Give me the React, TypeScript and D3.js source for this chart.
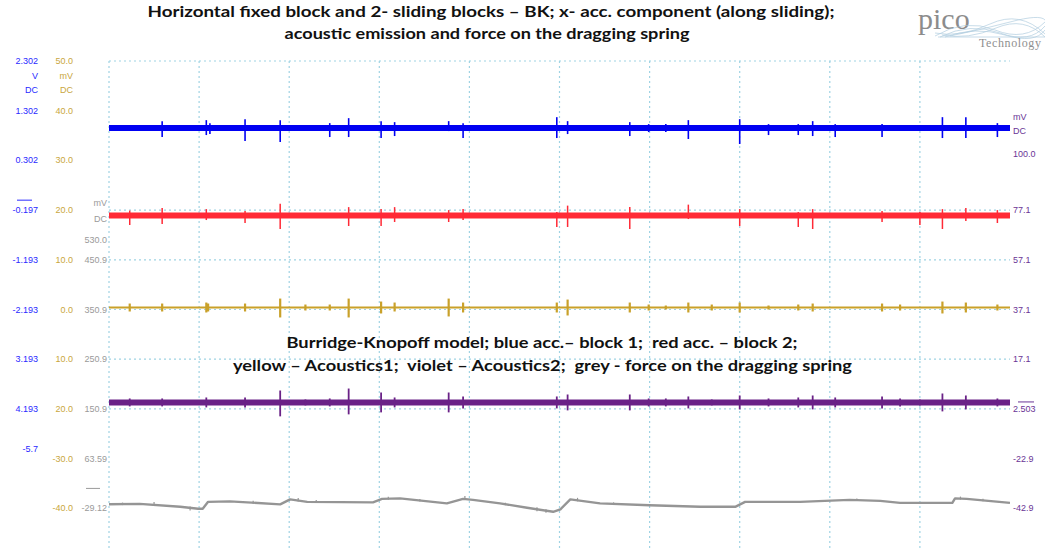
import React, { useEffect } from "react";
import * as d3 from "d3";

// ---------- data (time in screen divisions 0..10, amplitude in screen divisions) ----------
const TIME_DIVS = [0, 1, 2, 3, 4, 5, 6, 7, 8, 9];
const GRID_ROWS = [5, 2, 1, 0, -1, -2];

const BLUE_LEVEL = 3.65;
const RED_LEVEL = 1.89;
const YELLOW_LEVEL = 0.04;
const PURPLE_LEVEL = -1.87;

// [time, up, down] spikes
const blueSpikes: [number, number, number][] = [
  [0.59, 0.14, 0.18], [1.08, 0.16, 0.14], [1.12, 0.1, 0.12], [1.51, 0.18, 0.26], [1.9, 0.16, 0.28],
  [2.45, 0.1, 0.18], [2.66, 0.2, 0.18], [3.02, 0.14, 0.2], [3.17, 0.12, 0.16], [3.77, 0.14, 0.06],
  [3.93, 0.1, 0.2], [4.97, 0.22, 0.2], [5.09, 0.14, 0.12], [5.78, 0.12, 0.16], [5.99, 0.08, 0.08],
  [6.18, 0.08, 0.08], [6.43, 0.16, 0.22], [7.0, 0.18, 0.32], [7.32, 0.08, 0.14], [7.65, 0.08, 0.14],
  [7.81, 0.14, 0.16], [8.06, 0.08, 0.18], [8.58, 0.08, 0.18], [9.25, 0.22, 0.2], [9.51, 0.22, 0.2],
  [9.86, 0.1, 0.18],
];
const redSpikes: [number, number, number][] = [
  [0.23, 0.1, 0.19], [0.59, 0.15, 0.17], [1.08, 0.13, 0.09], [1.51, 0.09, 0.15], [1.9, 0.24, 0.27],
  [2.66, 0.17, 0.21], [3.02, 0.13, 0.21], [3.17, 0.17, 0.13], [3.77, 0.11, 0.13], [3.93, 0.13, 0.09],
  [4.97, 0.07, 0.23], [5.09, 0.2, 0.23], [5.78, 0.17, 0.27], [6.43, 0.22, 0.07], [7.0, 0.13, 0.21],
  [7.65, 0.07, 0.23], [7.81, 0.13, 0.27], [8.58, 0.09, 0.13], [9.0, 0.07, 0.19], [9.25, 0.13, 0.27],
  [9.51, 0.15, 0.11], [9.86, 0.11, 0.15],
];
const yellowSpikes: [number, number, number][] = [
  [0.23, 0.08, 0.08], [0.59, 0.08, 0.08], [1.08, 0.1, 0.1], [1.1, 0.08, 0.08], [1.51, 0.08, 0.08],
  [1.9, 0.18, 0.2], [2.18, 0.06, 0.06], [2.45, 0.06, 0.06], [2.66, 0.18, 0.2], [3.02, 0.12, 0.12],
  [3.17, 0.1, 0.08], [3.77, 0.18, 0.18], [3.93, 0.1, 0.1], [4.97, 0.1, 0.1], [5.09, 0.16, 0.16],
  [5.78, 0.1, 0.1], [5.99, 0.06, 0.06], [6.18, 0.04, 0.04], [6.43, 0.1, 0.1], [6.69, 0.06, 0.06],
  [7.0, 0.1, 0.1], [7.32, 0.04, 0.04], [7.65, 0.06, 0.06], [7.81, 0.08, 0.08], [8.58, 0.08, 0.08],
  [8.78, 0.06, 0.06], [9.25, 0.12, 0.12], [9.51, 0.1, 0.1], [9.86, 0.06, 0.06],
];
const purpleSpikes: [number, number, number][] = [
  [0.23, 0.08, 0.08], [0.59, 0.08, 0.08], [1.08, 0.1, 0.1], [1.51, 0.1, 0.1], [1.9, 0.24, 0.28],
  [2.18, 0.06, 0.06], [2.45, 0.08, 0.08], [2.66, 0.28, 0.24], [3.02, 0.2, 0.2], [3.17, 0.1, 0.1],
  [3.77, 0.2, 0.2], [3.93, 0.12, 0.12], [4.97, 0.12, 0.12], [5.09, 0.16, 0.16], [5.78, 0.16, 0.16],
  [5.99, 0.08, 0.08], [6.18, 0.08, 0.08], [6.43, 0.12, 0.12], [6.69, 0.06, 0.06], [7.0, 0.14, 0.14],
  [7.32, 0.08, 0.08], [7.65, 0.1, 0.1], [7.81, 0.14, 0.14], [8.06, 0.1, 0.1], [8.58, 0.12, 0.12],
  [8.78, 0.08, 0.08], [9.0, 0.06, 0.06], [9.25, 0.18, 0.18], [9.51, 0.14, 0.14], [9.86, 0.08, 0.08],
];

// grey: force on the dragging spring [time, level]
const greyTrace: [number, number][] = [
  [0, -3.92], [0.34, -3.91], [0.79, -3.97], [0.99, -4.01], [1.04, -4.01], [1.1, -3.87], [1.34, -3.86],
  [1.9, -3.92], [2.01, -3.82], [2.2, -3.87], [2.93, -3.88], [3.03, -3.81], [3.23, -3.8], [3.75, -3.9],
  [3.93, -3.81], [4.04, -3.83], [4.34, -3.9], [4.64, -3.99], [4.93, -4.07], [5.01, -4.02], [5.12, -3.82],
  [5.45, -3.9], [6.0, -3.94], [6.56, -3.97], [6.95, -3.97], [7.06, -3.87], [7.67, -3.87], [8.22, -3.83],
  [8.56, -3.85], [8.78, -3.89], [9.36, -3.89], [9.39, -3.8], [9.52, -3.81], [10, -3.89],
];
const greyTicks: [number, number, number][] = [
  [0.15, 0.03, 0.02], [0.5, 0.06, 0.02], [0.9, 0.03, 0.05], [1.6, 0.04, 0.02], [2.1, 0.05, 0.02],
  [2.3, 0.04, 0.02], [3.1, 0.04, 0.02], [3.45, 0.03, 0.02], [3.95, 0.06, 0.02], [4.4, 0.03, 0.02],
  [4.75, 0.04, 0.04], [4.85, 0.03, 0.04], [5.2, 0.05, 0.02], [5.6, 0.03, 0.02], [8.3, 0.03, 0.02],
  [9.45, 0.04, 0.02], [9.7, 0.03, 0.02],
];

// axis labels: [division, text]
const blueLabels: [number, string][] = [
  [5, "2.302"], [4.7, "V"], [4.42, "DC"], [4, "1.302"], [3, "0.302"], [2, "-0.197"], [1, "-1.193"],
  [0, "-2.193"], [-1, "3.193"], [-2, "4.193"], [-2.8, "-5.7"],
];
const yellowLabels: [number, string][] = [
  [5, "50.0"], [4.7, "mV"], [4.42, "DC"], [4, "40.0"], [3, "30.0"], [2, "20.0"], [1, "10.0"],
  [0, "0.0"], [-1, "10.0"], [-2, "20.0"], [-3, "-30.0"], [-4, "-40.0"],
];
const greyLabels: [number, string][] = [
  [2.15, "mV"], [1.83, "DC"], [1.4, "530.0"], [1, "450.9"], [0, "350.9"], [-1, "250.9"],
  [-2, "150.9"], [-3, "63.59"], [-4, "-29.12"],
];
const purpleLabels: [number, string][] = [
  [3.87, "mV"], [3.6, "DC"], [3.12, "100.0"], [2, "77.1"], [1, "57.1"], [0, "37.1"], [-1, "17.1"],
  [-2, "2.503"], [-3, "-22.9"], [-4, "-42.9"],
];

const TITLE1 = "Horizontal fixed block and 2- sliding blocks \u2013 BK; x- acc. component (along sliding);";
const TITLE2 = "acoustic emission and force on the dragging spring";
const NOTE1 = "Burridge-Knopoff model; blue acc.\u2013 block 1;\u00a0 red acc. \u2013 block 2;";
const NOTE2 = "yellow \u2013 Acoustics1;\u00a0 violet \u2013 Acoustics2;\u00a0 grey - force on the dragging spring";

const W = 1045;
const H = 550;

export default function App() {
  useEffect(() => {
    document.body.style.margin = "0";
  }, []);

  const x = d3.scaleLinear().domain([0, 10]).range([109, 1010]);
  const y = d3.scaleLinear().domain([5, -5]).range([61, 558]);

  const flat = (lvl: number) =>
    d3.line<number>().x((t) => x(t)).y(() => y(lvl))([0, 10]) as string;
  const greyPath = d3
    .line<[number, number]>()
    .x((d) => x(d[0]))
    .y((d) => y(d[1]))(greyTrace) as string;
  const greyAt = d3.scaleLinear().domain(greyTrace.map((d) => d[0])).range(greyTrace.map((d) => d[1]));

  const spikes = (arr: [number, number, number][], lvl: number, color: string, w: number, key: string) =>
    arr.map((s, i) => (
      <line key={key + i} x1={x(s[0])} x2={x(s[0])} y1={y(lvl + s[1])} y2={y(lvl - s[2])} stroke={color} strokeWidth={w} />
    ));

  const gridColor = "#9fd3e3";
  const labelFont = "Liberation Sans, Arial, sans-serif";

  const blue = "#0000f2";
  const red = "#ff2a36";
  const yellow = "#c9a12a";
  const purple = "#6a2287";
  const grey = "#959595";

  return (
    <svg width={W} height={H} style={{ display: "block" }} xmlns="http://www.w3.org/2000/svg">
      <rect x={0} y={0} width={W} height={H} fill="#ffffff" />

      {/* grid */}
      {TIME_DIVS.map((t) => (
        <line key={"v" + t} x1={x(t)} x2={x(t)} y1={y(5)} y2={H} stroke={gridColor} strokeWidth={1.2} strokeDasharray="2,3" />
      ))}
      {GRID_ROWS.map((r) => (
        <line key={"h" + r} x1={x(0)} x2={x(10)} y1={y(r)} y2={y(r)} stroke={gridColor} strokeWidth={1.2} strokeDasharray="2,3" />
      ))}

      {/* blue trace */}
      <path d={flat(BLUE_LEVEL)} stroke={blue} strokeWidth={6} fill="none" />
      {spikes(blueSpikes, BLUE_LEVEL, blue, 1.6, "b")}

      {/* red trace */}
      <path d={flat(RED_LEVEL)} stroke={red} strokeWidth={6} fill="none" />
      {spikes(redSpikes, RED_LEVEL, red, 1.5, "r")}

      {/* yellow trace */}
      <path d={flat(YELLOW_LEVEL)} stroke={yellow} strokeWidth={2.2} fill="none" />
      {spikes(yellowSpikes, YELLOW_LEVEL, yellow, 2.2, "y")}

      {/* purple trace */}
      <path d={flat(PURPLE_LEVEL)} stroke={purple} strokeWidth={6} fill="none" />
      {spikes(purpleSpikes, PURPLE_LEVEL, purple, 1.8, "p")}

      {/* grey trace */}
      <path d={greyPath} stroke={grey} strokeWidth={2.4} fill="none" strokeLinejoin="round" />
      {greyTicks.map((s, i) => {
        const lvl = greyAt(s[0]);
        return (
          <line key={"g" + i} x1={x(s[0])} x2={x(s[0])} y1={y(lvl + s[1])} y2={y(lvl - s[2])} stroke={grey} strokeWidth={1.2} />
        );
      })}

      {/* left / right labels */}
      <g fontFamily={labelFont} fontSize={9} dominantBaseline="central">
        {blueLabels.map(([d, t]) => (
          <text key={"bl" + t + d} x={38} y={y(d)} textAnchor="end" fill="#2a2aff">{t}</text>
        ))}
        {yellowLabels.map(([d, t]) => (
          <text key={"yl" + t + d} x={73} y={y(d)} textAnchor="end" fill="#c9a640">{t}</text>
        ))}
        {greyLabels.map(([d, t]) => (
          <text key={"gl" + t + d} x={107} y={y(d)} textAnchor="end" fill="#9a9a9a">{t}</text>
        ))}
        {purpleLabels.map(([d, t]) => (
          <text key={"pl" + t + d} x={1013} y={y(d)} textAnchor="start" fill="#6a3596">{t}</text>
        ))}
      </g>
      {/* overline marks */}
      <line x1={17} x2={32} y1={y(2.2)} y2={y(2.2)} stroke="#2a2aff" strokeWidth={1} />
      <line x1={86} x2={100} y1={y(-3.6)} y2={y(-3.6)} stroke="#9a9a9a" strokeWidth={1} />
      <line x1={1018} x2={1034} y1={y(-1.86)} y2={y(-1.86)} stroke="#6a3596" strokeWidth={1} />

      {/* titles and note */}
      <g fontFamily="Lato, 'Open Sans', sans-serif" fontWeight="bold" fontSize={16} fill="#111" textAnchor="middle">
        <text x={491} y={17} textLength={687} lengthAdjust="spacingAndGlyphs">{TITLE1}</text>
        <text x={487} y={39} textLength={405} lengthAdjust="spacingAndGlyphs">{TITLE2}</text>
        <text x={542} y={348} textLength={511} lengthAdjust="spacingAndGlyphs">{NOTE1}</text>
        <text x={542.5} y={371} textLength={619} lengthAdjust="spacingAndGlyphs">{NOTE2}</text>
      </g>

      {/* logo (partial, top right) */}
      <text x={918} y={29} fontFamily="Liberation Serif, serif" fontSize={30} fill="#8c8c8c">pico</text>
      <g stroke="#a9c8dc" strokeWidth={0.7} fill="none" opacity={0.9}>
        <path d="M935,36 Q965,18 995,30 T1045,22" />
        <path d="M940,37 Q970,22 1000,33 T1045,26" />
        <path d="M945,37 Q975,26 1005,35 T1045,30" />
        <path d="M935,33 Q960,38 990,24 T1045,34" />
        <path d="M942,35 Q968,40 996,28 T1045,37" />
        <path d="M950,36 Q980,30 1010,22 T1045,20" />
        <path d="M938,37 L1045,37" />
      </g>
      <text x={979} y={47} fontFamily="Liberation Serif, serif" fontSize={12} fill="#8f8f8f" letterSpacing={0.6}>Technology</text>
    </svg>
  );
}
